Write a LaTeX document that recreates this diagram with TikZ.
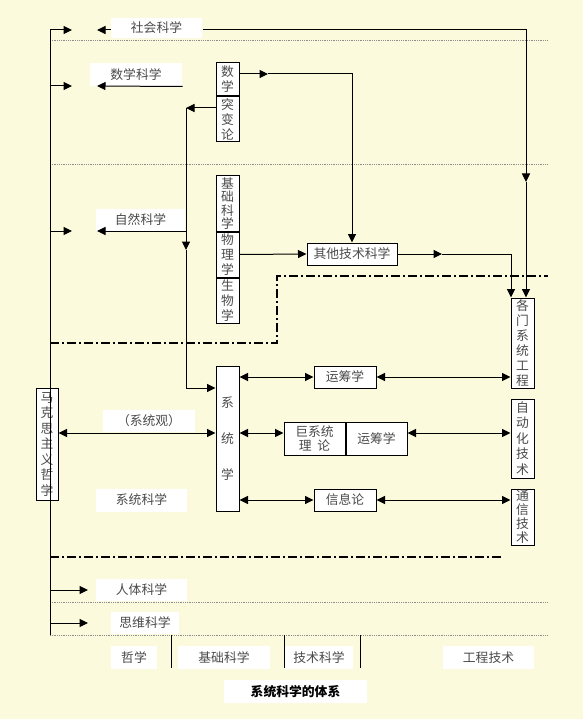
\documentclass[tikz,border=0pt]{standalone}
\usepackage{fontspec}
\setmainfont{Noto Sans CJK SC}
\usepackage{tikz}
\usetikzlibrary{positioning,arrows.meta,calc}
\definecolor{paper}{HTML}{FCFADC}
\definecolor{ink}{HTML}{4A4A4A}
\definecolor{dotgray}{HTML}{8C8C8C}

\begin{document}
\begin{tikzpicture}[
  x=1pt,y=-1pt,line width=1pt,
  font=\fontsize{12.8}{15}\selectfont,
  vbox/.style={draw,fill=white,text=ink,inner sep=0pt,minimum width=23pt,align=center},
  hbox/.style={draw,fill=white,text=ink,inner sep=0pt,minimum height=22pt,align=center},
  lbl/.style={fill=white,text=ink,inner sep=0pt,minimum height=22pt},
  >={Triangle[length=8.5pt,width=8pt]},link/.style={->},dlink/.style={<->},
  sep/.style={densely dotted,dotgray,line width=0.8pt},
  zone/.style={line width=1.3pt,dash pattern=on 9pt off 3pt on 2pt off 3pt}
]
\fill[paper] (0,0) rectangle (583,719);
\useasboundingbox (0,0) rectangle (583,719);

% zone borders
\foreach \y in {40,164,602,635} \draw[sep] (50,\y) -- (548,\y);
\draw[zone] (50,343) -- (277,343) -- (277,276) -- (548,276);
\draw[zone] (50,557) -- (503,557);

% labels on the left
\node[lbl,minimum width=91pt,minimum height=20pt] (shehui) at (156.5,28) {社会科学};
\node[lbl,minimum width=92pt,minimum height=23pt] (shuxuekx) at (136,74.5) {数学科学};
\node[lbl,minimum width=89pt] (ziran) at (140.5,220) {自然科学};
\node[lbl,minimum width=92pt] (xtguan) at (149,421) {（系统观）};
\node[lbl,minimum width=91pt,minimum height=23pt] (xtkx) at (141.5,500) {系统科学};
\node[lbl,minimum width=91pt] (renti) at (141.5,590) {人体科学};
\node[lbl,minimum width=68pt] (siwei) at (145,623) {思维科学};

% column boxes
\node[vbox,minimum height=33pt] (shuxue) at (227.5,79.5) {数\\学};
\node[vbox,minimum height=45pt,below=0pt of shuxue] (tubian) {突\\变\\论};
\node[vbox,minimum height=55pt,font=\fontsize{12.8}{13.5}\selectfont] (jichu) at (227.5,203.5) {基\\础\\科\\学};
\node[vbox,minimum height=45pt,below=0pt of jichu] (wuli) {物\\理\\学};
\node[vbox,minimum height=45pt,below=0pt of wuli] (shengwu) {生\\物\\学};
\node[vbox,minimum height=145pt,font=\fontsize{12.8}{36}\selectfont] (xitongxue) at (227.5,438.5) {系\\统\\学};
\node[vbox,minimum width=22pt,minimum height=112pt,font=\fontsize{12.8}{15.5}\selectfont] (makesi) at (47,444) {马\\克\\思\\主\\义\\哲\\学};

\node[hbox,minimum width=90pt] (qita) at (352,254) {其他技术科学};
\node[hbox,minimum width=62pt] (yunchou1) at (345,377) {运筹学};
\node[hbox,minimum width=61pt,minimum height=33pt,font=\fontsize{12.8}{14}\selectfont] (juxitong) at (314.5,438.5) {巨系统\\理\ \ 论};
\node[hbox,minimum width=61pt,minimum height=33pt,right=0pt of juxitong] (yunchou2) {运筹学};
\node[hbox,minimum width=62pt] (xinxi) at (345,500) {信息论};

\node[vbox,minimum height=90pt] (gemen) at (522.5,343) {各\\门\\系\\统\\工\\程};
\node[vbox,minimum height=79pt,font=\fontsize{12.8}{15.5}\selectfont] (zidong) at (522.5,438.5) {自\\动\\化\\技\\术};
\node[vbox,minimum height=56pt,font=\fontsize{12.8}{14}\selectfont] (tongxin) at (522.5,517) {通\\信\\技\\术};

% bottom row
\node[lbl,minimum width=46pt,minimum height=23pt] (zhexue) at (134,657.5) {哲学};
\node[lbl,minimum width=92pt,minimum height=23pt] (jckx) at (224,657.5) {基础科学};
\node[lbl,minimum width=68pt,minimum height=23pt] (jskx) at (319,657.5) {技术科学};
\node[lbl,minimum width=91pt,minimum height=23pt] (gcjs) at (488.5,657.5) {工程技术};
\node[lbl,minimum width=143pt,minimum height=23pt,text=black,font=\fontsize{12.8}{15}\selectfont\bfseries] (title) at (295.5,691.5) {系统科学的体系};
\foreach \x in {171,284,360} \draw (\x,635) -- (\x,668);

% trunk on the left
\coordinate (ltop) at (50,30);
\coordinate (lbot) at (50,635);
\draw (ltop) -- (lbot);
\foreach \n/\y/\e in {a/30/72,b/86/72,c/231/72,d/590/88,e/623/88}{
  \coordinate (s\n) at (50,\y);
  \coordinate (e\n) at (\e,\y);
  \draw[link] (s\n) -- (e\n);
}
\coordinate (wa) at (97,30);
\coordinate (wb) at (97,86);
\coordinate (wc) at (97,231);
\draw[link] (shehui.west |- wa) -- (wa);
\draw[link] (shuxuekx.south east) -- (wb);

% from catastrophe theory down to systematics
\coordinate (v1) at (186,108);
\coordinate (vz) at (186,231);
\coordinate (v2) at (186,250);
\coordinate (v3) at (186,388);
\draw[link] (tubian.west |- v1) -- (v1);
\draw[link] (v1) -- (v2);
\draw[link] (v2) -- (v3) -- (xitongxue.west |- v3);
\draw[link] (vz) -- (wc);

% to other technical sciences
\coordinate (m1) at (268,74);
\coordinate (m2) at (352,74);
\draw[link] (shuxue.east |- m1) -- (m1);
\draw[link] (m1) -- (m2) -- (qita.north);
\draw[link] (wuli.east) -- (qita.west);

% to systems engineering
\coordinate (q1) at (442,254);
\coordinate (q2) at (511,254);
\draw[link] (qita.east) -- (q1);
\draw[link] (q1) -- (q2) -- (q2 |- gemen.north);
\coordinate (r1) at (526,30);
\coordinate (r2) at (526,182);
\draw[link] (shehui.east |- r1) -- (r1) -- (r2);
\draw[link] (r2) -- (r2 |- gemen.north);

% systematics row
\coordinate (xtg) at (0,433);
\draw[dlink] (makesi.east |- xtg) -- (xitongxue.west |- xtg);
\draw[dlink] (xitongxue.east |- yunchou1) -- (yunchou1.west);
\draw[dlink] (yunchou1.east) -- (gemen.west |- yunchou1);
\draw[dlink] (xitongxue.east |- xtg) -- (juxitong.west |- xtg);
\draw[dlink] (yunchou2.east |- xtg) -- (zidong.west |- xtg);
\draw[dlink] (xitongxue.east |- xinxi) -- (xinxi.west);
\draw[dlink] (xinxi.east) -- (tongxin.west |- xinxi);
\end{tikzpicture}
\end{document}
